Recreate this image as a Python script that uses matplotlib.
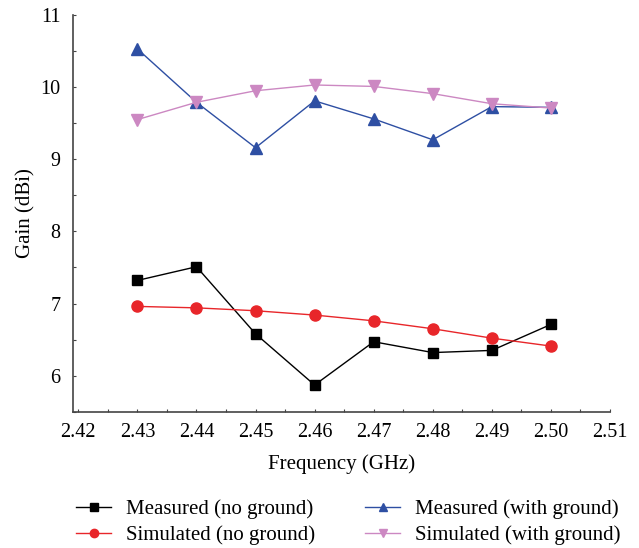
import matplotlib
matplotlib.use("Agg")
import matplotlib.pyplot as plt
from matplotlib.ticker import MultipleLocator, FormatStrFormatter

freq = [2.43, 2.44, 2.45, 2.46, 2.47, 2.48, 2.49, 2.50]
meas_no = [7.32, 7.51, 6.58, 5.87, 6.47, 6.32, 6.35, 6.71]
sim_no = [6.96, 6.94, 6.90, 6.84, 6.76, 6.65, 6.52, 6.41]
meas_with = [10.53, 9.79, 9.16, 9.81, 9.56, 9.27, 9.73, 9.72]
sim_with = [9.55, 9.79, 9.95, 10.03, 10.01, 9.91, 9.77, 9.71]

labels = ["Measured (no ground)", "Simulated (no ground)",
          "Measured (with ground)", "Simulated (with ground)"]

plt.rcParams['font.family'] = ['Liberation Serif', 'DejaVu Serif']

fig = plt.figure(figsize=(6.39, 5.48), dpi=100)
ax = fig.add_axes([0.1142, 0.2487, 0.9546 - 0.1142, 0.9726 - 0.2487])

h1, = ax.plot(freq, meas_no, color='black', marker='s', ms=7, lw=1.0, label=labels[0])
h2, = ax.plot(freq, sim_no, color='#e8262a', marker='o', ms=8, lw=1.0, label=labels[1])
h3, = ax.plot(freq, meas_with, color='#2e4fa3', marker='^', ms=8.5, lw=1.0, label=labels[2])
h4, = ax.plot(freq, sim_with, color='#cc88c2', marker='v', ms=8.5, lw=1.0, label=labels[3])

ax.set_xlim(2.4191, 2.51)
ax.set_ylim(5.5, 11)
ax.xaxis.set_major_locator(MultipleLocator(0.01))
ax.xaxis.set_minor_locator(MultipleLocator(0.005))
ax.xaxis.set_major_formatter(FormatStrFormatter('%.2f'))
ax.yaxis.set_major_locator(MultipleLocator(1))
ax.yaxis.set_minor_locator(MultipleLocator(0.5))

for s in ['top', 'right']:
    ax.spines[s].set_visible(False)
for s in ['left', 'bottom']:
    ax.spines[s].set_color('#444444')
    ax.spines[s].set_linewidth(1.2)

ax.tick_params(axis='both', which='both', direction='in', length=2.5, width=0.8,
               color='#444444', labelsize=14.5)
ax.tick_params(axis='x', pad=8)
ax.tick_params(axis='y', pad=9)

ax.set_xlabel("Frequency (GHz)", fontsize=15, labelpad=9)
ax.set_ylabel("Gain (dBi)", fontsize=15, labelpad=3.5)

fig.legend(handles=[h1, h2, h3, h4], loc='center', bbox_to_anchor=(0.545, 0.047),
           ncol=2, frameon=False, fontsize=15, markerscale=0.75, handlelength=1.7,
           columnspacing=2.4, handletextpad=0.7, labelspacing=0.3, borderpad=0)

fig.savefig("out.png", dpi=100)
